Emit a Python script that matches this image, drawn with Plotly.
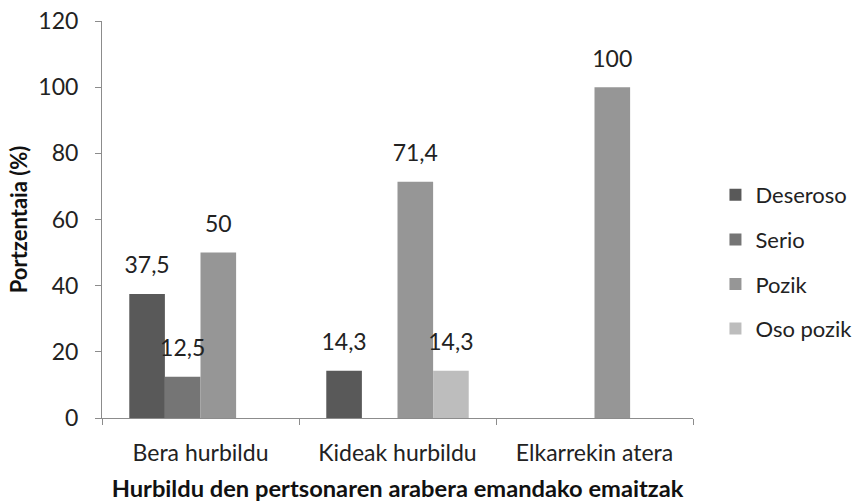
import plotly.graph_objects as go

categories = ["Bera hurbildu", "Kideak hurbildu", "Elkarrekin atera"]
deseroso = [37.5, 14.3, 0]
serio = [12.5, 0, 0]
pozik = [50, 71.4, 100]
oso_pozik = [0, 14.3, 0]

series = [
    ("Deseroso", deseroso, "#595959"),
    ("Serio", serio, "#757575"),
    ("Pozik", pozik, "#969696"),
    ("Oso pozik", oso_pozik, "#bdbdbd"),
]

FONT = "Lato"
GAP = 0.277


def fmt(v):
    if not v:
        return ""
    s = ("%.1f" % v).rstrip("0").rstrip(".")
    return s.replace(".", ",")


fig = go.Figure()
for name, vals, color in series:
    fig.add_trace(go.Bar(
        name=name,
        x=categories,
        y=vals,
        marker=dict(color=color, line=dict(width=0)),
        offsetgroup=name,
        alignmentgroup="g",
        legendgroup=name,
    ))

# value labels, grouped the same way as the bars and lifted above them
for name, vals, color in series:
    fig.add_trace(go.Scatter(
        x=categories,
        y=[v if v else None for v in vals],
        mode="markers+text",
        marker=dict(size=22, opacity=0, color=color),
        text=[fmt(v) for v in vals],
        textposition="top center",
        textfont=dict(family=FONT, size=23, color="#222"),
        offsetgroup=name,
        alignmentgroup="g",
        showlegend=False,
        hoverinfo="skip",
        cliponaxis=False,
    ))

fig.update_layout(
    width=855,
    height=502,
    margin=dict(l=102, r=162, t=21, b=84, autoexpand=False),
    paper_bgcolor="white",
    plot_bgcolor="white",
    barmode="group",
    bargap=GAP,
    bargroupgap=0,
    scattermode="group",
    scattergap=GAP,
    separators=", ",
    font=dict(family=FONT, size=23, color="#222"),
    legend=dict(
        x=1.038, y=0.393, xanchor="left", yanchor="middle",
        font=dict(family=FONT, size=22, color="#222"),
        tracegroupgap=13,
        bgcolor="rgba(0,0,0,0)",
    ),
    xaxis=dict(
        showline=True, linecolor="#8c8c8c", linewidth=1,
        ticks="outside", tickson="boundaries", ticklen=6, tickcolor="#8c8c8c",
        showgrid=False,
        ticklabelstandoff=14,
        tickfont=dict(family=FONT, size=23, color="#222"),
        title=dict(text="<b>Hurbildu den pertsonaren arabera emandako emaitzak</b>",
                   font=dict(family=FONT, size=23.7, color="#111"), standoff=22),
    ),
    yaxis=dict(
        range=[0, 120], dtick=20,
        showline=True, linecolor="#8c8c8c", linewidth=1,
        ticks="outside", ticklen=6, tickcolor="#8c8c8c",
        showgrid=False, zeroline=False,
        ticklabelstandoff=12,
        tickfont=dict(family=FONT, size=23, color="#222"),
        title=dict(text="<b>Portzentaia (%)</b>",
                   font=dict(family=FONT, size=22, color="#111"), standoff=4),
    ),
)

fig.write_html("out.html")
